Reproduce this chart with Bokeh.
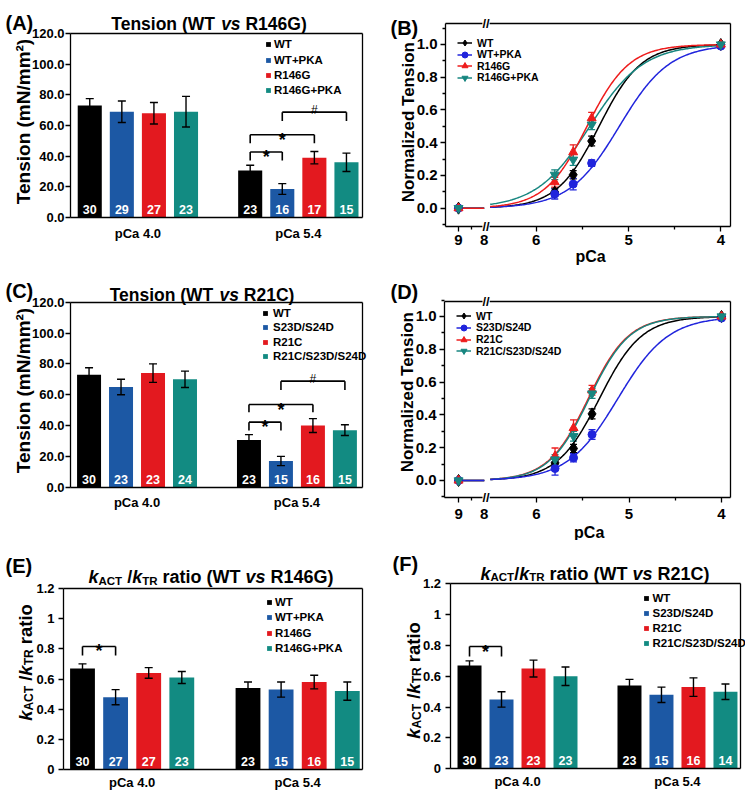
import math
import numpy as np
from bokeh.plotting import figure
from bokeh.layouts import row, column
from bokeh.models import (ColumnDataSource, Range1d, FixedTicker, Label, Legend, LinearAxis,
                          LegendItem, PrintfTickFormatter, Whisker, TeeHead)
from bokeh.core.properties import value
from bokeh.embed import file_html
from bokeh.resources import INLINE

FONT = "Liberation Sans"

# ---------------- data ----------------
groups = ["pCa 4.0", "pCa 5.4"]

A_names = ["WT", "WT+PKA", "R146G", "R146G+PKA"]
A_mean_40 = [73.0, 69.0, 68.0, 69.0]
A_err_40 = [4.5, 7.0, 7.0, 10.0]
A_n_40 = [30, 29, 27, 23]
A_mean_54 = [30.6, 18.6, 39.0, 36.0]
A_err_54 = [3.5, 3.5, 4.0, 6.0]
A_n_54 = [23, 16, 17, 15]
# (group, from series, to series, bracket level, end level, symbol)
A_brackets = [(1, 0, 1, 42.7, 37.2, "*"), (1, 0, 2, 54.0, 48.5, "*"), (1, 1, 3, 68.7, 63.0, "#")]

C_names = ["WT", "S23D/S24D", "R21C", "R21C/S23D/S24D"]
C_mean_40 = [73.0, 65.0, 74.0, 70.0]
C_err_40 = [4.5, 5.0, 6.0, 5.3]
C_n_40 = [30, 23, 23, 24]
C_mean_54 = [30.6, 17.0, 40.0, 37.0]
C_err_54 = [3.5, 3.0, 4.5, 3.5]
C_n_54 = [23, 15, 16, 15]
C_brackets = [(1, 0, 1, 42.2, 36.8, "*"), (1, 0, 2, 53.6, 48.6, "*"), (1, 1, 3, 68.8, 63.1, "#")]

E_names = A_names
E_mean_40 = [0.67, 0.48, 0.64, 0.61]
E_err_40 = [0.03, 0.05, 0.035, 0.04]
E_n_40 = [30, 27, 27, 23]
E_mean_54 = [0.54, 0.53, 0.58, 0.52]
E_err_54 = [0.04, 0.05, 0.045, 0.06]
E_n_54 = [23, 15, 16, 15]
E_brackets = [(0, 0, 1, 0.815, 0.755, "*")]

F_names = C_names
F_mean_40 = [0.67, 0.45, 0.65, 0.60]
F_err_40 = [0.03, 0.05, 0.055, 0.06]
F_n_40 = [30, 23, 23, 23]
F_mean_54 = [0.54, 0.48, 0.53, 0.50]
F_err_54 = [0.04, 0.05, 0.06, 0.05]
F_n_54 = [23, 15, 16, 14]
F_brackets = [(0, 0, 1, 0.793, 0.728, "*")]

tension_ticks = [0, 20, 40, 60, 80, 100, 120]
ratio_ticks = [0, 0.2, 0.4, 0.6, 0.8, 1.0, 1.2]
ratio_tick_labels = ["0", "0.2", "0.4", "0.6", "0.8", "1", "1.2"]

# normalized tension vs pCa
pCa_points = [9.0, 5.8, 5.6, 5.4, 4.0]
B_names = ["WT", "WT+PKA", "R146G", "R146G+PKA"]
B_WT = [0.0, 0.098, 0.204, 0.41, 1.0]
B_WT_err = [0.005, 0.025, 0.025, 0.03, 0.005]
B_WTPKA = [0.0, 0.086, 0.147, 0.275, 0.99]
B_WTPKA_err = [0.005, 0.03, 0.035, 0.02, 0.005]
B_R146G = [0.0, 0.159, 0.342, 0.55, 1.0]
B_R146G_err = [0.005, 0.03, 0.045, 0.035, 0.005]
B_R146GPKA = [0.0, 0.204, 0.296, 0.51, 1.0]
B_R146GPKA_err = [0.005, 0.03, 0.035, 0.03, 0.005]
B_pCa50 = [5.32, 5.10, 5.45, 5.42]   # Hill-fit parameters
B_nH = [1.9, 1.6, 1.9, 1.5]

D_names = ["WT", "S23D/S24D", "R21C", "R21C/S23D/S24D"]
D_WT = [0.0, 0.107, 0.195, 0.406, 1.0]
D_WT_err = [0.005, 0.025, 0.025, 0.03, 0.005]
D_S23D = [0.0, 0.073, 0.138, 0.28, 0.99]
D_S23D_err = [0.005, 0.04, 0.025, 0.03, 0.005]
D_R21C = [0.0, 0.148, 0.32, 0.55, 1.0]
D_R21C_err = [0.005, 0.05, 0.05, 0.03, 0.005]
D_R21CS23D = [0.0, 0.128, 0.27, 0.53, 1.0]
D_R21CS23D_err = [0.005, 0.03, 0.03, 0.03, 0.005]
D_pCa50 = [5.32, 5.12, 5.44, 5.43]
D_nH = [1.9, 1.6, 2.0, 2.0]

pCa_tick_values = [9, 8, 6, 5, 4]
pCa_minor_values = [8.5, 5.5, 4.5]
norm_ticks = [0.0, 0.2, 0.4, 0.6, 0.8, 1.0]
norm_minor = [-0.1, 0.1, 0.3, 0.5, 0.7, 0.9, 1.1]

bar_colors = ["#000000", "#1c58a4", "#e3191f", "#128b82"]
line_colors = ["#000000", "#2024dc", "#ee1c1c", "#178680"]
line_markers = ["diamond", "circle", "triangle", "inverted_triangle"]
marker_sizes = [12, 8, 9, 9]

# ---------------- helpers ----------------
GROUP_STEP = 5
CW = {' ': 278, '(': 333, ')': 333, '/': 278, '+': 584, '.': 278, '#': 556, '*': 389,
      'A': 722, 'C': 722, 'D': 722, 'G': 778, 'K': 722, 'N': 722, 'P': 667, 'R': 722,
      'S': 667, 'T': 611, 'W': 944, 'a': 556, 'c': 556, 'd': 611, 'e': 556, 'i': 278,
      'k': 556, 'l': 278, 'm': 889, 'n': 611, 'o': 611, 'p': 611, 'r': 389, 's': 556,
      't': 333, 'v': 556, 'z': 500}


def text_w(s, size):
    return sum(CW.get(c, 556) for c in s) * size / 1000.0


class Panel:
    """A figure whose frame is its whole canvas; the plot box is drawn with fixed axes."""

    def __init__(self, canvas, box, xlim, ylim):
        cx0, cy0, cw, ch = canvas
        bx0, by0, bx1, by1 = box
        self.canvas = canvas
        self.xlim, self.ylim = xlim, ylim
        ppx = (bx1 - bx0) / (xlim[1] - xlim[0])
        ppy = (by1 - by0) / (ylim[1] - ylim[0])
        xr = Range1d(xlim[0] - (bx0 - cx0) / ppx, xlim[1] + (cx0 + cw - bx1) / ppx)
        yr = Range1d(ylim[0] - (cy0 + ch - by1) / ppy, ylim[1] + (by0 - cy0) / ppy)
        p = figure(width=cw, height=ch, x_range=xr, y_range=yr, output_backend="svg",
                   toolbar_location=None, title=None, x_axis_location=None,
                   y_axis_location=None, min_border=0)
        p.grid.grid_line_color = None
        p.outline_line_color = None
        p.background_fill_color = "white"
        p.border_fill_color = "white"
        self.p = p
        self.left = self._axis("left", xlim[0], ylim)
        self.bottom = self._axis("below", ylim[0], xlim)
        self._axis("above", ylim[1], xlim, plain=True)
        self._axis("right", xlim[1], ylim, plain=True)

    def _axis(self, side, loc, bounds, plain=False):
        ax = LinearAxis(fixed_location=loc, bounds=bounds)
        ax.axis_line_color = "black"
        ax.axis_line_width = 1.3
        ax.major_label_text_font = FONT
        ax.major_label_text_font_style = "bold"
        ax.major_label_text_color = "black"
        ax.major_tick_line_color = "black"
        ax.major_tick_line_width = 1.3
        ax.minor_tick_line_color = "black"
        ax.minor_tick_line_width = 1.3
        ax.major_tick_in = 0
        ax.minor_tick_in = 0
        if plain:
            ax.ticker = FixedTicker(ticks=[], minor_ticks=[])
            ax.major_tick_line_color = None
            ax.minor_tick_line_color = None
        self.p.add_layout(ax, side)
        return ax

    def sx(self, page_x):
        return page_x - self.canvas[0]

    def sy(self, page_y):
        return self.canvas[1] + self.canvas[3] - page_y

    def lab(self, text, px, py, size, style="bold", align="left", angle=0.0):
        self.p.add_layout(Label(x=self.sx(px), y=self.sy(py), x_units="screen", y_units="screen",
                                text=text, angle=angle, text_font=FONT, text_font_style=style,
                                text_font_size=f"{size}px", text_color="black",
                                text_align=align, text_baseline="alphabetic"))

    def rich(self, pieces, px, py, vertical=False):
        """pieces: (text, size, italic, subscript shift, gap before); centred at px (or py)."""
        total = sum(g + text_w(t, s) for (t, s, it, sub, g) in pieces)
        cur = -total / 2.0
        for (t, s, it, sub, g) in pieces:
            cur += g
            style = "bold italic" if it else "bold"
            if vertical:
                self.lab(t, px + sub, py - cur, s, style, angle=math.pi / 2)
            else:
                self.lab(t, px + cur, py + sub, s, style)
            cur += text_w(t, s)

    def legend_row(self, label, renderers, px_left, py_center, gw, gh, lh, size, standoff):
        h = max(gh, lh)
        leg = Legend(items=[LegendItem(label=label, renderers=renderers)],
                     location=(self.sx(px_left), self.sy(py_center + h / 2.0)),
                     glyph_width=gw, glyph_height=gh, label_height=lh, label_standoff=standoff,
                     padding=0, margin=0, spacing=0, border_line_color=None,
                     background_fill_alpha=0.0, label_text_font=FONT,
                     label_text_font_style="bold", label_text_font_size=f"{size}px",
                     label_text_color="black", label_text_baseline="middle")
        self.p.add_layout(leg)


def bar_panel(canvas, box, xlim, ylim, names, means, errs, ns, brackets, yticks, ylabels,
              letter, letter_pos, title_pieces, title_pos, ylab, ylab_pos,
              leg_x, leg_y0, leg_dy, leg_standoff, x_standoff, y_standoff):
    P = Panel(canvas, box, xlim, ylim)
    p = P.p
    rends = []
    for s, name in enumerate(names):
        xs = [g * GROUP_STEP + s for g in range(len(groups))]
        src = ColumnDataSource(dict(
            x=xs, top=[means[g][s] for g in range(len(groups))],
            lo=[means[g][s] - errs[g][s] for g in range(len(groups))],
            hi=[means[g][s] + errs[g][s] for g in range(len(groups))],
            n=[str(ns[g][s]) for g in range(len(groups))]))
        r = p.vbar(x="x", top="top", bottom=0, width=0.75, source=src,
                   fill_color=bar_colors[s], line_color=None)
        rends.append(r)
        p.add_layout(Whisker(source=src, base="x", upper="hi", lower="lo", dimension="height",
                             line_color="black", line_width=1.4, level="annotation",
                             upper_head=TeeHead(size=8, line_color="black", line_width=1.4),
                             lower_head=TeeHead(size=8, line_color="black", line_width=1.4)))
        p.text(x="x", y=0, text="n", source=src, text_color="white",
               text_font=value(FONT), text_font_style="bold", text_font_size="12.5px",
               text_align="center", text_baseline="alphabetic", y_offset=-8)
    for (g, s0, s1, lev, lo, sym) in brackets:
        xa = g * GROUP_STEP + s0
        xb = g * GROUP_STEP + s1
        p.segment(x0=[xa, xa, xb], y0=[lo, lev, lev], x1=[xa, xb, xb], y1=[lev, lev, lo],
                  line_color="black", line_width=1.6)
        if sym == "*":
            p.text(x=[(xa + xb) / 2.0], y=[lev], text=[sym], text_font=value(FONT),
                   text_font_style="bold", text_font_size="18px", text_align="center",
                   text_baseline="alphabetic", y_offset=5, text_color="black")
        else:
            p.text(x=[(xa + xb) / 2.0], y=[lev], text=[sym], text_font=value(FONT),
                   text_font_style="normal", text_font_size="12px", text_align="center",
                   text_baseline="alphabetic", y_offset=-2, text_color="black")
    centers = [g * GROUP_STEP + (len(names) - 1) / 2.0 for g in range(len(groups))]
    bx = P.bottom
    bx.ticker = FixedTicker(ticks=centers, minor_ticks=[])
    bx.major_label_overrides = {c: t for c, t in zip(centers, groups)}
    bx.major_tick_line_color = None
    bx.minor_tick_line_color = None
    bx.major_tick_out = 0
    bx.minor_tick_out = 0
    bx.major_label_text_font_size = "13px"
    bx.major_label_standoff = x_standoff
    ly = P.left
    ly.ticker = FixedTicker(ticks=yticks, minor_ticks=[])
    ly.major_label_overrides = {t: l for t, l in zip(yticks, ylabels)}
    ly.major_label_text_font_size = "13px"
    ly.major_tick_out = 5
    ly.major_label_standoff = y_standoff
    ly.minor_tick_line_color = None
    P.lab(letter, letter_pos[0], letter_pos[1], 20)
    P.rich(title_pieces, title_pos[0], title_pos[1])
    if isinstance(ylab, str):
        P.lab(ylab, ylab_pos[0], ylab_pos[1], 19, align="center", angle=math.pi / 2)
    else:
        P.rich(ylab, ylab_pos[0], ylab_pos[1], vertical=True)
    for s, name in enumerate(names):
        P.legend_row(name, [rends[s]], leg_x, leg_y0 + s * leg_dy, 6, 6, 14, 11.5, leg_standoff)
    return p


U8 = -6.565       # axis position of pCa 8 (left, compressed segment)
K_LEFT = 0.278    # compression of the 9..8 segment
U_BREAK = -6.545


def pca_to_u(pc):
    pc = np.asarray(pc, dtype=float)
    return np.round(np.where(pc >= 7.5, U8 - (pc - 8.0) * K_LEFT, -pc), 4)


def hill(pc, p50, nh):
    return 1.0 / (1.0 + 10.0 ** (nh * (np.asarray(pc) - p50)))


def line_panel(canvas, box, xlim, ylim, names, ys, errs, p50s, nhs, curve_order,
               letter, letter_pos, ylab_pos, xlab_pos, x_standoff, leg_x, leg_y0, leg_dy):
    P = Panel(canvas, box, xlim, ylim)
    p = P.p
    line_r = {}
    left = np.linspace(9.0, 8.0, 20)
    right = np.linspace(6.5, 4.0, 200)
    for s in curve_order:
        xs = np.concatenate([pca_to_u(left), [np.nan], pca_to_u(right)])
        yv = np.concatenate([hill(left, p50s[s], nhs[s]), [np.nan],
                             hill(right, p50s[s], nhs[s])])
        line_r[s] = p.line(xs, yv, line_color=line_colors[s], line_width=1.5)
    mark_r = {}
    for s in range(len(names)):
        src = ColumnDataSource(dict(x=pca_to_u(pCa_points), y=ys[s],
                                    lo=[a - b for a, b in zip(ys[s], errs[s])],
                                    hi=[a + b for a, b in zip(ys[s], errs[s])]))
        p.add_layout(Whisker(source=src, base="x", upper="hi", lower="lo", dimension="height",
                             line_color=line_colors[s], line_width=1.3,
                             upper_head=TeeHead(size=7, line_color=line_colors[s], line_width=1.3),
                             lower_head=TeeHead(size=7, line_color=line_colors[s], line_width=1.3)))
        mark_r[s] = p.scatter(x="x", y="y", source=src, marker=line_markers[s],
                              size=marker_sizes[s], fill_color=line_colors[s],
                              line_color=line_colors[s])
    ticks = [float(v) for v in pca_to_u(pCa_tick_values)]
    bx = P.bottom
    bx.ticker = FixedTicker(ticks=ticks, minor_ticks=[float(v) for v in pca_to_u(pCa_minor_values)])
    bx.major_label_overrides = {t: str(v) for t, v in zip(ticks, pCa_tick_values)}
    bx.major_label_text_font_size = "15px"
    bx.major_tick_out = 5
    bx.minor_tick_out = 3
    bx.major_label_standoff = x_standoff
    ly = P.left
    ly.ticker = FixedTicker(ticks=norm_ticks, minor_ticks=norm_minor)
    ly.formatter = PrintfTickFormatter(format="%.1f")
    ly.major_label_text_font_size = "15px"
    ly.major_tick_out = 5
    ly.minor_tick_out = 3
    ly.major_label_standoff = 3
    for yb in ylim:
        p.add_layout(Label(x=U_BREAK, y=yb, text="//", text_font=FONT, text_font_style="bold",
                           text_font_size="13px", text_align="center", text_baseline="middle",
                           background_fill_color="white", text_color="black"))
    P.lab(letter, letter_pos[0], letter_pos[1], 20)
    P.lab("Normalized Tension", ylab_pos[0], ylab_pos[1], 17, align="center", angle=math.pi / 2)
    P.lab("pCa", xlab_pos[0], xlab_pos[1], 16, align="center")
    for s, name in enumerate(names):
        P.legend_row(name, [line_r[s], mark_r[s]], leg_x, leg_y0 + s * leg_dy, 15, 19, 19, 10.5, 5)
    return p


# ---------------- panels ----------------
sp17 = text_w(" ", 17.5)
sp18 = text_w(" ", 18)
sp18b = text_w(" ", 18.5)

title_A = [("Tension (WT", 17.5, False, 0, 0), ("vs", 17.5, True, 0, sp17),
           ("R146G)", 17.5, False, 0, sp17)]
title_C = [("Tension (WT", 17.5, False, 0, 0), ("vs", 17.5, True, 0, sp17),
           ("R21C)", 17.5, False, 0, sp17)]
title_E = [("k", 18, True, 0, 0), ("ACT", 11.5, False, 3.5, 0), ("/", 18, False, 0, sp18),
           ("k", 18, True, 0, 0), ("TR", 11.5, False, 3.5, 0), ("ratio (WT", 18, False, 0, sp18),
           ("vs", 18, True, 0, sp18), ("R146G)", 18, False, 0, sp18)]
title_F = [("k", 18, True, 0, 0), ("ACT", 11.5, False, 3.5, 0), ("/", 18, False, 0, 0),
           ("k", 18, True, 0, 0), ("TR", 11.5, False, 3.5, 0), ("ratio (WT", 18, False, 0, sp18),
           ("vs", 18, True, 0, sp18), ("R21C)", 18, False, 0, sp18)]
ylab_k = [("k", 18.5, True, 0, 0), ("ACT", 12, False, 3.5, 0), ("/", 18.5, False, 0, sp18b),
          ("k", 18.5, True, 0, 0), ("TR", 12, False, 3.5, 0), ("ratio", 18.5, False, 0, sp18b)]

pA = bar_panel((0, 0, 372, 270), (70, 33, 362, 217), (-0.6, 8.5), (0, 120), A_names,
               [A_mean_40, A_mean_54], [A_err_40, A_err_54], [A_n_40, A_n_54], A_brackets,
               tension_ticks, [f"{t:.1f}" for t in tension_ticks],
               "(A)", (5, 22), title_A, (208.5, 23.3), "Tension (mN/mm²)", (23, 121),
               265, 44.3, 15.2, 3, 8, 1)

pB = line_panel((372, 0, 373, 270), (445, 22.7, 730.3, 226), (-6.984, -3.892), (-0.112, 1.13),
                B_names, [B_WT, B_WTPKA, B_R146G, B_R146GPKA],
                [B_WT_err, B_WTPKA_err, B_R146G_err, B_R146GPKA_err],
                B_pCa50, B_nH, [0, 1, 3, 2],
                "(B)", (390, 27.3), (408, 121.7), (590, 256), 3, 457, 42.7, 11.5)

pC = bar_panel((0, 270, 372, 270), (70, 301.7, 362, 486.7), (-0.58, 8.55), (0, 120), C_names,
               [C_mean_40, C_mean_54], [C_err_40, C_err_54], [C_n_40, C_n_54], C_brackets,
               tension_ticks, [f"{t:.1f}" for t in tension_ticks],
               "(C)", (5, 290.7), title_C, (201.5, 294), "Tension (mN/mm²)", (23, 390),
               262, 312.7, 14.4, 5, 8, 1)

pD = line_panel((372, 270, 373, 270), (444, 300.7, 730, 496.7), (-6.995, -3.903), (-0.102, 1.093),
                D_names, [D_WT, D_S23D, D_R21C, D_R21CS23D],
                [D_WT_err, D_S23D_err, D_R21C_err, D_R21CS23D_err],
                D_pCa50, D_nH, [0, 2, 3, 1],
                "(D)", (390, 291.7), (407, 391.7), (588.7, 531.5), 7, 456, 315.5, 11.8)

pE = bar_panel((0, 540, 372, 257), (63, 587.7, 362, 769.3), (-0.574, 8.459), (0, 1.2), E_names,
               [E_mean_40, E_mean_54], [E_err_40, E_err_54], [E_n_40, E_n_54], E_brackets,
               ratio_ticks, ratio_tick_labels,
               "(E)", (5, 565), title_E, (210.5, 576.7), ylab_k, (25, 662),
               266, 601.7, 15.5, 3, 5, 4)

pF = bar_panel((372, 540, 373, 257), (449.5, 583.3, 740, 768.3), (-0.61, 8.47), (0, 1.2), F_names,
               [F_mean_40, F_mean_54], [F_err_40, F_err_54], [F_n_40, F_n_54], F_brackets,
               ratio_ticks, ratio_tick_labels,
               "(F)", (392, 563.3), title_F, (594.5, 573.3), ylab_k, (413, 680),
               642.5, 598.3, 15.0, 4, 5, 4)

layout = column(row(pA, pB), row(pC, pD), row(pE, pF))

with open("out.html", "w") as f:
    f.write(file_html(layout, INLINE))
